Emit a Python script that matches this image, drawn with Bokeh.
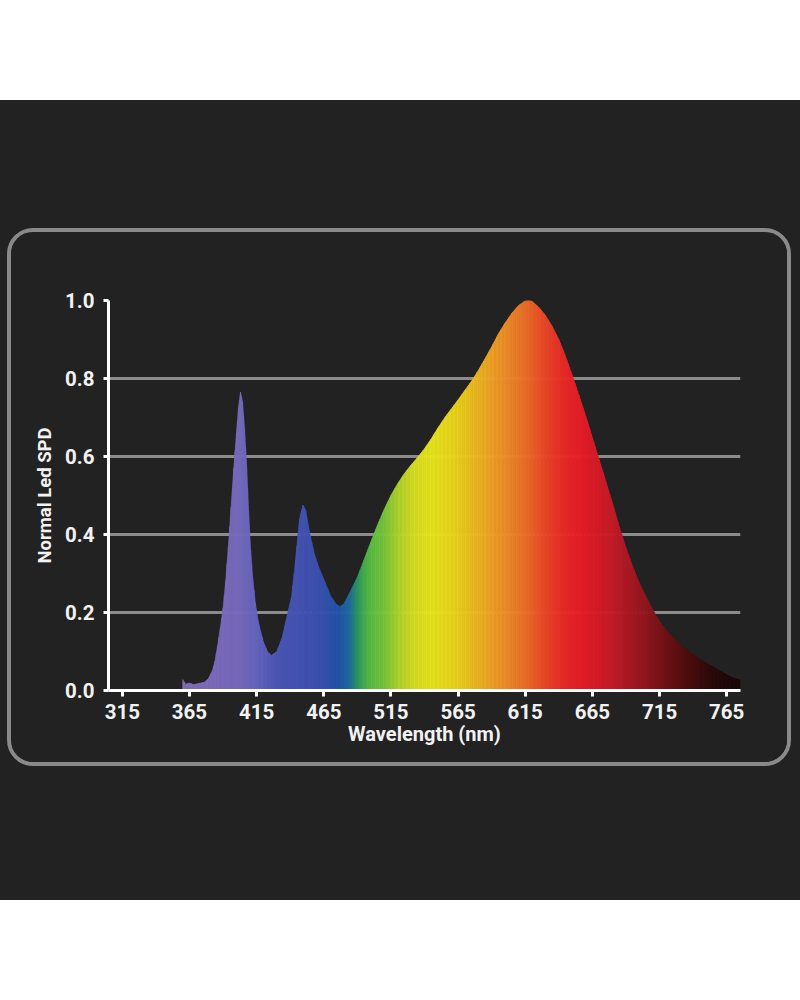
import numpy as np
from bokeh.plotting import figure
from bokeh.models import FixedTicker, PrintfTickFormatter, Spacer
from bokeh.layouts import column, row
from bokeh.embed import file_html
from bokeh.resources import INLINE

# ---------------- data ----------------
wavelength = [360, 362, 365, 368, 372, 376, 379, 382, 384, 386, 388, 390, 392, 394, 396, 398,
              400, 401.5, 403, 404.5, 406, 407.5, 409, 410.5, 412, 414, 416, 418, 420, 423, 426,
              430, 434, 437, 441, 443, 445, 447, 449.5, 451.5, 453, 455, 458, 461, 465, 470,
              474, 477, 480, 485, 490, 495, 500, 505, 510, 515, 520, 525, 530, 535, 540, 545,
              550, 555, 560, 565, 570, 575, 580, 585, 590, 595, 600, 605, 610, 615, 618, 620,
              625, 630, 635, 640, 645, 650, 655, 660, 665, 670, 675, 680, 685, 690, 695, 700,
              705, 710, 715, 720, 725, 730, 735, 740, 745, 750, 755, 760, 765, 770, 775]
spd = [0.028, 0.016, 0.019, 0.015, 0.018, 0.021, 0.03, 0.05, 0.075, 0.115, 0.16, 0.21, 0.28, 0.37, 0.47, 0.57,
       0.66, 0.725, 0.765, 0.74, 0.67, 0.58, 0.46, 0.36, 0.29, 0.225, 0.18, 0.15, 0.125, 0.1, 0.09,
       0.1, 0.135, 0.18, 0.24, 0.3, 0.37, 0.44, 0.475, 0.462, 0.43, 0.395, 0.35, 0.318, 0.285, 0.243,
       0.222, 0.215, 0.222, 0.255, 0.29, 0.335, 0.38, 0.424, 0.464, 0.5, 0.53, 0.556, 0.578, 0.598, 0.62, 0.645,
       0.673, 0.699, 0.722, 0.745, 0.769, 0.793, 0.82, 0.85, 0.881, 0.914, 0.942, 0.967, 0.987, 0.999, 1.0, 0.998,
       0.983, 0.962, 0.934, 0.9, 0.857, 0.808, 0.757, 0.704, 0.648, 0.592, 0.536, 0.48, 0.42, 0.366, 0.318, 0.275,
       0.24, 0.207, 0.177, 0.155, 0.136, 0.12, 0.105, 0.092, 0.08, 0.07, 0.06, 0.05, 0.04, 0.032, 0.027]

x_ticks = [315, 365, 415, 465, 515, 565, 615, 665, 715, 765]
y_ticks = [0.0, 0.2, 0.4, 0.6, 0.8, 1.0]
x_label = "Wavelength (nm)"
y_label = "Normal Led SPD"

# ---------------- style: spectrum colour stops ----------------
stop_nm = [360, 400, 415, 430, 460, 476, 484, 489, 494, 500, 510, 520, 532, 545, 565, 585,
           600, 615, 630, 645, 660, 680, 705, 730, 755, 775]
stop_rgb = [(128, 110, 184), (120, 106, 188), (102, 100, 190), (76, 88, 182), (62, 80, 176),
            (36, 84, 168), (30, 106, 160), (40, 140, 110), (64, 170, 80), (90, 188, 68),
            (120, 196, 60), (170, 208, 46), (214, 220, 34), (230, 228, 30), (232, 208, 28),
            (236, 170, 36), (236, 142, 40), (234, 112, 40), (232, 72, 40), (232, 40, 40),
            (226, 28, 40), (196, 28, 40), (144, 24, 32), (90, 16, 16), (42, 10, 10), (26, 8, 8)]
stop_arr = np.array(stop_rgb, dtype=float)


def spec_color(w):
    r = np.interp(w, stop_nm, stop_arr[:, 0])
    g = np.interp(w, stop_nm, stop_arr[:, 1])
    b = np.interp(w, stop_nm, stop_arr[:, 2])
    return "#%02x%02x%02x" % (int(round(r)), int(round(g)), int(round(b)))


BG = "#222222"
TXT = "#f2f2f2"
FONT = "Roboto"

# the canvas ends up sized to the bordered box (776+8 x 530+8); borders account for it
p = figure(width=776, height=530, x_range=(304.7, 775.3), y_range=(0, 1.0),
           output_backend="svg", toolbar_location=None,
           min_border_left=97, min_border_right=55, min_border_top=68, min_border_bottom=80,
           background_fill_color=BG, border_fill_color=BG, outline_line_color=None)
p.styles = {"border": "4px solid #8a8a8a", "border-radius": "26px",
            "overflow": "hidden", "box-sizing": "content-box"}

# spectrum fill: each data segment split into thin bands so the colour runs smoothly
xs, ys, cols = [], [], []
for i in range(len(wavelength) - 1):
    w0, w1 = wavelength[i], wavelength[i + 1]
    v0, v1 = spd[i], spd[i + 1]
    n = max(1, int(np.ceil((w1 - w0) / 1.0)))
    for k in range(n):
        ta, tb = k / n, (k + 1) / n
        xa, xb = w0 + (w1 - w0) * ta, w0 + (w1 - w0) * tb
        ya, yb = v0 + (v1 - v0) * ta, v0 + (v1 - v0) * tb
        xs.append([xa, xb, xb, xa])
        ys.append([0, 0, yb, ya])
        cols.append(spec_color(0.5 * (xa + xb)))
p.patches(xs, ys, fill_color=cols, line_color=cols, line_width=0.7)

# axes
for ax in (p.xaxis, p.yaxis):
    ax.axis_line_color = "white"
    ax.axis_line_width = 3
    ax.major_tick_line_color = "white"
    ax.major_tick_line_width = 3
    ax.major_tick_in = 0
    ax.minor_tick_line_color = None
    ax.major_label_text_color = TXT
    ax.major_label_text_font = FONT
    ax.major_label_text_font_size = "20.5px"
    ax.major_label_text_font_style = "bold"
    ax.axis_label_text_color = TXT
    ax.axis_label_text_font = FONT
    ax.axis_label_text_font_style = "bold"

p.xaxis.axis_label_text_font_size = "20px"
p.yaxis.axis_label_text_font_size = "18.5px"
p.xaxis.ticker = FixedTicker(ticks=x_ticks)
p.yaxis.ticker = FixedTicker(ticks=y_ticks)
p.yaxis.formatter = PrintfTickFormatter(format="%.1f")
p.xaxis.major_tick_out = 6
p.yaxis.major_tick_out = 5
p.xaxis.major_label_standoff = 7
p.yaxis.major_label_standoff = 9
p.xaxis.axis_label = x_label
p.yaxis.axis_label = y_label
p.xaxis.axis_label_standoff = 0
p.yaxis.axis_label_standoff = 6

p.xgrid.visible = False
p.ygrid.grid_line_color = "#8c8c8c"
p.ygrid.grid_line_width = 3

top_white = Spacer(width=800, height=100)
dark_top = Spacer(width=800, height=128)
dark_bot = Spacer(width=800, height=134)
box_row = row(Spacer(width=7, height=538), p)
inner = column(dark_top, box_row, dark_bot, styles={"background-color": BG})
layout = column(top_white, inner)

open("out.html", "w").write(file_html(layout, INLINE))
